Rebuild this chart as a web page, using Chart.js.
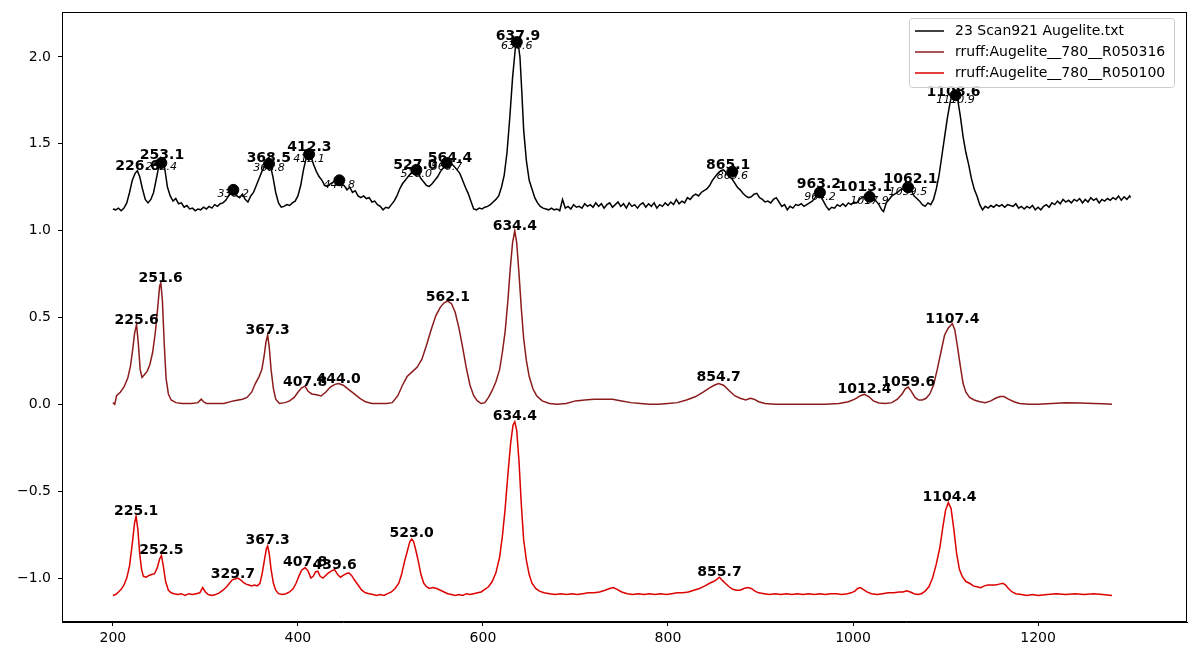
<!DOCTYPE html>
<html>
<head>
<meta charset="utf-8">
<script src="https://cdn.jsdelivr.net/npm/chart.js@4.4.1/dist/chart.umd.min.js"></script>
<style>
  body { margin: 0; background: #fff; }
  #wrap { width: 1200px; height: 659px; }
</style>
</head>
<body>
<div id="wrap"><canvas id="chart"></canvas></div>
<script>
/* ================= DATA ================= */

const seriesNames = ["23 Scan921 Augelite.txt", "rruff:Augelite__780__R050316", "rruff:Augelite__780__R050100"];
const seriesColors = ["#000000", "#8c1c1c", "#dc0000"];

// measured scan (offset +1.1)
const scanX = [200,203,206,209,212,215,218,221,224,226.5,229,232,235,238,241,244,247,250,253,256,259,262,265,268,271,274,277,280,283,286,289,292,295,298,301,304,307,310,313,316,319,322,325,328,331,334,337,340,343,346,349,352,355,358,361,364,367,370,373,376,379,382,385,388,391,394,397,400,403,406,409,411.5,414,417,420,423,426,429,432,435,438,441,444,447,450,453,456,459,462,465,468,471,474,477,480,483,486,489,492,495,498,501,504,507,510,513,516,519,522,525,527,530,533,536,539,542,545,548,551,554,557,560,563,566,569,572,575,578,581,584,587,590,593,596,599,602,605,608,611,614,617,620,623,626,629,632,635,637.5,640,642,644,647,650,653,656,659,662,665,668,671,674,677,680,683,686,689,692,695,698,701,704,707,710,713,716,719,722,725,728,731,734,737,740,743,746,749,752,755,758,761,764,767,770,773,776,779,782,785,788,791,794,797,800,803,806,809,812,815,818,821,824,827,830,833,836,839,842,845,848,851,854,857,860,863,866,869,872,875,878,881,884,887,890,893,896,899,902,905,908,911,914,917,920,923,926,929,932,935,938,941,944,947,950,953,956,959,962,965,968,971,974,977,980,983,986,989,992,995,998,1001,1004,1007,1010,1013,1016,1019,1022,1025,1028,1031,1033,1036,1039,1042,1045,1048,1051,1054,1057,1060,1063,1066,1069,1072,1075,1078,1081,1084,1087,1090,1093,1096,1099,1102,1105,1108,1110,1113,1116,1119,1122,1125,1128,1131,1134,1137,1140,1143,1146,1149,1152,1155,1158,1161,1164,1167,1170,1173,1176,1179,1182,1185,1188,1191,1194,1197,1200,1203,1206,1209,1212,1215,1218,1221,1224,1227,1230,1233,1236,1239,1242,1245,1248,1251,1254,1257,1260,1263,1266,1269,1272,1275,1278,1281,1284,1287,1290,1293,1296,1299,1300];
const scanY = [1.125,1.12,1.13,1.115,1.13,1.16,1.22,1.29,1.33,1.345,1.31,1.24,1.18,1.16,1.18,1.22,1.3,1.38,1.405,1.36,1.25,1.2,1.17,1.185,1.155,1.16,1.135,1.145,1.125,1.13,1.115,1.125,1.12,1.135,1.125,1.14,1.13,1.15,1.14,1.155,1.16,1.175,1.2,1.235,1.225,1.2,1.19,1.21,1.18,1.165,1.2,1.22,1.26,1.3,1.34,1.37,1.4,1.38,1.31,1.22,1.16,1.135,1.14,1.15,1.145,1.16,1.17,1.2,1.26,1.35,1.42,1.465,1.43,1.38,1.34,1.31,1.29,1.26,1.255,1.27,1.28,1.29,1.295,1.27,1.26,1.235,1.25,1.22,1.23,1.2,1.19,1.2,1.185,1.19,1.165,1.17,1.15,1.14,1.12,1.135,1.13,1.15,1.17,1.2,1.24,1.27,1.29,1.31,1.33,1.35,1.355,1.33,1.3,1.28,1.26,1.255,1.27,1.29,1.31,1.34,1.36,1.375,1.39,1.385,1.37,1.35,1.33,1.29,1.25,1.215,1.17,1.125,1.12,1.13,1.125,1.135,1.14,1.15,1.165,1.18,1.2,1.25,1.32,1.45,1.65,1.88,2.05,2.095,2.0,1.8,1.58,1.4,1.29,1.24,1.19,1.16,1.14,1.13,1.125,1.12,1.13,1.12,1.125,1.115,1.18,1.13,1.14,1.125,1.15,1.135,1.14,1.13,1.155,1.14,1.15,1.135,1.16,1.14,1.155,1.13,1.15,1.16,1.135,1.15,1.165,1.14,1.155,1.13,1.16,1.14,1.15,1.13,1.15,1.16,1.135,1.155,1.14,1.16,1.13,1.15,1.14,1.16,1.145,1.165,1.15,1.18,1.155,1.17,1.16,1.19,1.18,1.2,1.21,1.2,1.22,1.23,1.24,1.26,1.29,1.31,1.33,1.345,1.35,1.335,1.31,1.3,1.275,1.25,1.235,1.215,1.2,1.19,1.195,1.21,1.215,1.19,1.18,1.165,1.17,1.16,1.18,1.19,1.165,1.14,1.15,1.12,1.14,1.13,1.15,1.145,1.155,1.14,1.15,1.16,1.17,1.19,1.215,1.2,1.17,1.14,1.12,1.135,1.13,1.15,1.14,1.155,1.14,1.16,1.15,1.165,1.16,1.18,1.19,1.2,1.205,1.19,1.18,1.17,1.15,1.12,1.11,1.16,1.18,1.2,1.21,1.22,1.235,1.24,1.25,1.245,1.23,1.2,1.185,1.17,1.15,1.14,1.16,1.15,1.18,1.24,1.32,1.43,1.54,1.65,1.74,1.8,1.805,1.76,1.66,1.54,1.45,1.38,1.3,1.24,1.2,1.15,1.12,1.14,1.13,1.145,1.135,1.15,1.14,1.15,1.135,1.15,1.145,1.14,1.155,1.13,1.14,1.125,1.14,1.13,1.145,1.12,1.135,1.12,1.14,1.15,1.135,1.16,1.15,1.17,1.155,1.18,1.165,1.175,1.16,1.18,1.17,1.185,1.16,1.18,1.165,1.19,1.175,1.185,1.16,1.18,1.17,1.185,1.175,1.19,1.18,1.2,1.175,1.195,1.18,1.2,1.19];

// rruff R050316
const ref1X = [200,202,204,208,212,216,219,221.5,223.5,225.6,227.5,229.5,231.5,234,237,240,243,246,248.5,250.5,251.8,253.5,255.5,257.5,260,263,268,275,285,292,295.5,298,301,310,320,330,340,345,350,354,358,361,363.5,365.5,367.3,369,371,373.5,376,380,386,391,396,400,404,407.8,411,415,420,425,430,435,440,444,449,455,461,467,473,480,488,496,502,508,513,518,524,529,534,539,544,549,554,558,562,566,570,574,578,582,586,590,594,598,602,606,610,614,618,621,624,627,629.5,632,634.4,636.5,639,641.5,644,647,650,654,658,664,672,680,690,700,710,720,730,740,750,760,770,780,790,800,810,820,830,838,845,850,854.7,860,866,872,878,884,889,893,898,905,915,930,950,970,985,995,1002,1008,1012.4,1017,1022,1028,1035,1042,1048,1053,1056.5,1059.6,1063,1067,1071,1075,1079,1083,1087,1091,1095,1099,1103,1107.4,1110,1113,1116,1119,1122,1126,1131,1137,1143,1149,1154,1159,1163,1168,1174,1180,1190,1200,1215,1230,1245,1260,1270,1280];
const ref1Y = [0.01,0.0,0.05,0.07,0.1,0.15,0.22,0.32,0.41,0.46,0.35,0.2,0.155,0.17,0.19,0.23,0.3,0.42,0.56,0.68,0.70,0.6,0.35,0.15,0.06,0.025,0.01,0.005,0.005,0.01,0.03,0.015,0.005,0.005,0.005,0.02,0.03,0.04,0.07,0.12,0.16,0.2,0.28,0.36,0.40,0.33,0.2,0.09,0.03,0.005,0.01,0.02,0.04,0.07,0.095,0.105,0.075,0.06,0.055,0.048,0.07,0.1,0.115,0.12,0.11,0.085,0.06,0.035,0.015,0.005,0.005,0.005,0.01,0.05,0.11,0.16,0.19,0.215,0.26,0.34,0.43,0.51,0.56,0.585,0.595,0.58,0.53,0.44,0.33,0.21,0.11,0.05,0.02,0.005,0.01,0.04,0.08,0.13,0.2,0.3,0.42,0.6,0.78,0.93,1.0,0.93,0.75,0.55,0.38,0.25,0.16,0.09,0.05,0.02,0.005,0.0,0.005,0.02,0.025,0.03,0.03,0.03,0.02,0.01,0.005,0.0,0.0,0.005,0.01,0.025,0.045,0.07,0.095,0.11,0.12,0.11,0.08,0.05,0.035,0.025,0.035,0.03,0.015,0.005,0.0,0.0,0.0,0.0,0.005,0.015,0.03,0.05,0.058,0.045,0.02,0.008,0.005,0.01,0.03,0.06,0.09,0.10,0.075,0.04,0.025,0.025,0.035,0.06,0.11,0.2,0.3,0.4,0.44,0.465,0.43,0.33,0.22,0.12,0.07,0.04,0.025,0.015,0.01,0.02,0.035,0.045,0.045,0.03,0.015,0.005,0.0,0.0,0.005,0.01,0.008,0.005,0.003,0.0];

// rruff R050100 (offset -1.1)
const ref2X = [200,203,206,209,212,215,218,221,223.5,225.1,227,229,231,233,236,239,242,245,248,250.5,252.5,254.5,257,260,263,266,270,274,278,282,286,290,294,297,300,303,307,311,315,319,323,326,329,332,335,338,341,344,347,350,353,356,359,361.5,364,366,367.3,369,371,373.5,376,379,383,387,391,395,398,401,404,407.8,411,414,416.5,419,421.5,424,427,430,433,436,439.6,443,446,449,452,455,458,461,465,469,473,477,481,485,489,493,497,501,505,509,512,515,518,521,523,525,527,530,533,536,539,542,546,550,554,558,562,566,570,574,578,582,586,590,594,598,602,606,610,614,618,621,624,627,630,632.5,634.4,636.5,639,641.5,644,647,650,653,657,661,666,672,678,684,690,696,702,708,714,720,726,732,737,741,745,750,756,762,768,774,780,786,792,798,804,810,816,822,828,834,840,845,849,852,855.7,859,862,866,870,874,878,882,886,890,894,898,904,910,916,922,928,934,940,946,952,958,964,970,976,982,988,994,998,1002,1005,1008,1011,1015,1020,1026,1032,1038,1044,1050,1054,1058,1062,1066,1070,1074,1078,1082,1086,1090,1094,1097,1100,1103,1106,1109,1112,1115,1118,1122,1126,1130,1134,1138,1142,1146,1150,1154,1158,1162,1165,1168,1172,1176,1182,1188,1194,1200,1210,1220,1230,1240,1250,1260,1270,1280];
const ref2Y = [-1.1,-1.095,-1.08,-1.065,-1.04,-1.0,-0.93,-0.8,-0.68,-0.645,-0.72,-0.86,-0.95,-0.99,-0.995,-0.985,-0.98,-0.975,-0.94,-0.89,-0.87,-0.93,-1.02,-1.07,-1.085,-1.09,-1.095,-1.09,-1.1,-1.09,-1.095,-1.09,-1.085,-1.055,-1.08,-1.095,-1.1,-1.095,-1.085,-1.07,-1.05,-1.03,-1.01,-1.005,-1.0,-1.01,-1.025,-1.035,-1.04,-1.045,-1.04,-1.045,-1.03,-0.97,-0.89,-0.83,-0.815,-0.86,-0.95,-1.03,-1.07,-1.09,-1.095,-1.09,-1.08,-1.06,-1.03,-0.99,-0.955,-0.94,-0.96,-1.0,-0.99,-0.965,-0.96,-0.99,-1.0,-0.985,-0.97,-0.96,-0.95,-0.98,-0.995,-0.985,-0.975,-0.97,-0.985,-1.01,-1.04,-1.07,-1.085,-1.09,-1.095,-1.1,-1.095,-1.1,-1.09,-1.08,-1.06,-1.03,-0.98,-0.91,-0.85,-0.79,-0.775,-0.79,-0.83,-0.9,-0.98,-1.03,-1.05,-1.06,-1.055,-1.06,-1.07,-1.08,-1.09,-1.095,-1.1,-1.095,-1.1,-1.09,-1.095,-1.09,-1.085,-1.08,-1.065,-1.05,-1.02,-0.97,-0.88,-0.76,-0.6,-0.4,-0.22,-0.12,-0.1,-0.15,-0.33,-0.58,-0.78,-0.9,-0.98,-1.03,-1.06,-1.075,-1.085,-1.09,-1.095,-1.09,-1.095,-1.09,-1.095,-1.09,-1.085,-1.085,-1.08,-1.07,-1.06,-1.055,-1.065,-1.08,-1.09,-1.095,-1.09,-1.095,-1.09,-1.095,-1.09,-1.095,-1.09,-1.085,-1.085,-1.08,-1.07,-1.06,-1.045,-1.03,-1.02,-1.01,-0.995,-1.015,-1.03,-1.05,-1.065,-1.07,-1.07,-1.06,-1.055,-1.06,-1.075,-1.085,-1.09,-1.095,-1.09,-1.095,-1.09,-1.095,-1.09,-1.095,-1.09,-1.095,-1.09,-1.095,-1.09,-1.09,-1.095,-1.09,-1.085,-1.075,-1.06,-1.055,-1.065,-1.08,-1.09,-1.095,-1.09,-1.085,-1.085,-1.08,-1.08,-1.073,-1.08,-1.09,-1.095,-1.09,-1.075,-1.05,-1.0,-0.92,-0.82,-0.71,-0.61,-0.565,-0.6,-0.72,-0.86,-0.95,-0.99,-1.02,-1.03,-1.045,-1.05,-1.055,-1.045,-1.04,-1.04,-1.04,-1.035,-1.03,-1.04,-1.06,-1.08,-1.09,-1.095,-1.1,-1.095,-1.1,-1.095,-1.09,-1.095,-1.09,-1.095,-1.09,-1.095,-1.1];

// bold peak labels (position, height)
const scanPeakX = [226.6,253.1,368.5,412.3,527.0,564.4,637.9,865.1,963.2,1013.1,1062.1,1108.6];
const scanPeakY = [1.34,1.405,1.385,1.45,1.35,1.39,2.09,1.345,1.235,1.22,1.265,1.77];
const ref1PeakX = [225.6,251.6,367.3,407.8,444.0,562.1,634.4,854.7,1012.4,1059.6,1107.4];
const ref1PeakY = [0.455,0.695,0.40,0.10,0.115,0.59,0.995,0.125,0.057,0.098,0.46];
const ref2PeakX = [225.1,252.5,329.7,367.3,407.8,439.6,523.0,634.4,855.7,1104.4];
const ref2PeakY = [-0.642,-0.868,-1.005,-0.814,-0.938,-0.955,-0.772,-0.098,-0.996,-0.565];

// fitted peaks on the scan (markers + italic labels)
const fitX = [252.4,330.2,368.8,412.1,444.8,528.0,560.7,636.6,869.6,964.2,1017.9,1059.5,1110.9];
const fitY = [1.39,1.235,1.385,1.44,1.29,1.35,1.39,2.086,1.34,1.22,1.195,1.25,1.78];

const xTicks = [200,400,600,800,1000,1200];
const yTicks = [-1.0,-0.5,0.0,0.5,1.0,1.5,2.0];

/* ================= CHART ================= */

function pts(xs, ys){
  return xs.map((x, i) => ({x: x, y: ys[i]}));
}

const FONT = "'DejaVu Sans', sans-serif";

const labelPlugin = {
  id: "peakLabels",
  beforeDatasetDraw(chart, args){
    if (args.index !== 3) return;
    const c = chart.ctx, xs = chart.scales.x, ys = chart.scales.y;
    c.save();
    c.fillStyle = "#000";
    c.font = "italic 11px " + FONT;
    c.textAlign = "center";
    c.textBaseline = "top";
    fitX.forEach((x, i) => {
      c.fillText(x.toFixed(1), xs.getPixelForValue(x), ys.getPixelForValue(fitY[i]) - 1);
    });
    c.restore();
  },
  afterDatasetsDraw(chart){
    const c = chart.ctx, xs = chart.scales.x, ys = chart.scales.y;
    const a = chart.chartArea;
    c.save();
    c.fillStyle = "#000";
    c.font = "bold 14px " + FONT;
    c.textAlign = "center";
    c.textBaseline = "bottom";
    [[scanPeakX, scanPeakY], [ref1PeakX, ref1PeakY], [ref2PeakX, ref2PeakY]].forEach(([px, py]) => {
      px.forEach((x, i) => {
        c.fillText(x.toFixed(1), xs.getPixelForValue(x), ys.getPixelForValue(py[i]) + 2);
      });
    });

    // frame
    c.strokeStyle = "#000";
    c.lineWidth = 1;
    c.strokeRect(a.left + 0.5, a.top + 0.5, a.right - a.left - 1, a.bottom - a.top - 1);

    // legend box
    const lx = 909.5, ly = 18.5, lw = 265, lh = 69;
    c.beginPath();
    c.roundRect(lx, ly, lw, lh, 3);
    c.fillStyle = "rgba(255,255,255,0.8)";
    c.fill();
    c.strokeStyle = "#cccccc";
    c.stroke();
    c.font = "14px " + FONT;
    c.textAlign = "left";
    c.textBaseline = "middle";
    seriesNames.forEach((name, i) => {
      const y = 31 + i * 21;
      c.beginPath();
      c.moveTo(915, y);
      c.lineTo(944, y);
      c.strokeStyle = seriesColors[i];
      c.lineWidth = 1.5;
      c.stroke();
      c.fillStyle = "#000";
      c.fillText(name, 955, y);
    });
    c.restore();
  }
};

const lineStyle = (i) => ({
  borderColor: seriesColors[i],
  backgroundColor: seriesColors[i],
  borderWidth: 1.5,
  pointRadius: 0,
  tension: 0,
  fill: false
});

new Chart(document.getElementById("chart"), {
  type: "line",
  data: {
    datasets: [
      Object.assign({label: seriesNames[0], data: pts(scanX, scanY), order: 3}, lineStyle(0)),
      Object.assign({label: seriesNames[1], data: pts(ref1X, ref1Y), order: 2}, lineStyle(1)),
      Object.assign({label: seriesNames[2], data: pts(ref2X, ref2Y), order: 1}, lineStyle(2)),
      {
        label: "fit",
        data: pts(fitX, fitY),
        showLine: false,
        pointRadius: 5.5,
        pointBackgroundColor: "#000",
        pointBorderColor: "#000",
        order: 0
      }
    ]
  },
  options: {
    responsive: true,
    maintainAspectRatio: false,
    animation: false,
    layout: { padding: { top: 12, right: 13, left: 0, bottom: 0 } },
    plugins: { legend: { display: false }, tooltip: { enabled: false } },
    scales: {
      x: {
        type: "linear",
        min: 145,
        max: 1361,
        afterBuildTicks: s => { s.ticks = xTicks.map(v => ({value: v})); },
        afterFit: s => { s.height = 37; s.paddingLeft = 0; s.paddingRight = 0; },
        grid: { display: true, drawOnChartArea: false, drawTicks: true, tickLength: 4, color: "#000" },
        border: { display: true, color: "#000", width: 1 },
        ticks: {
          color: "#000", padding: 4, maxRotation: 0, font: { family: FONT, size: 14 },
          callback: v => String(v)
        }
      },
      y: {
        type: "linear",
        min: -1.253,
        max: 2.259,
        afterBuildTicks: s => { s.ticks = yTicks.map(v => ({value: v})); },
        afterFit: s => { s.width = 62; s.paddingTop = 0; s.paddingBottom = 0; },
        grid: { display: true, drawOnChartArea: false, drawTicks: true, tickLength: 4, color: "#000" },
        border: { display: true, color: "#000", width: 1 },
        ticks: {
          color: "#000", padding: 7, font: { family: FONT, size: 14 },
          callback: v => v.toFixed(1).replace("-", "\u2212")
        }
      }
    }
  },
  plugins: [labelPlugin]
});
</script>
</body>
</html>
